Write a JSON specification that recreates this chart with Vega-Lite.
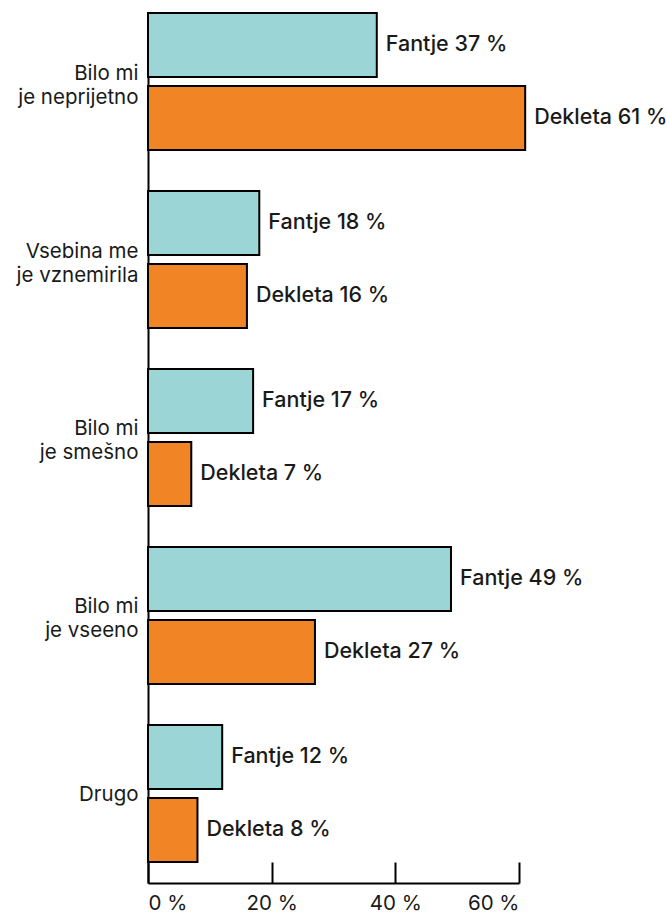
{
  "$schema": "https://vega.github.io/schema/vega-lite/v6.json",
  "width": 371,
  "height": 870,
  "autosize": {"type": "none"},
  "padding": {"left": 148, "top": 13, "right": 148, "bottom": 30},
  "background": "white",
  "config": {"view": {"stroke": null}, "font": "Inter"},
  "data": {
    "values": [
      {"category": "Bilo mi|je neprijetno", "group": "Fantje", "value": 37, "label": "Fantje 37 %"},
      {"category": "Bilo mi|je neprijetno", "group": "Dekleta", "value": 61, "label": "Dekleta 61 %"},
      {"category": "Vsebina me|je vznemirila", "group": "Fantje", "value": 18, "label": "Fantje 18 %"},
      {"category": "Vsebina me|je vznemirila", "group": "Dekleta", "value": 16, "label": "Dekleta 16 %"},
      {"category": "Bilo mi|je smešno", "group": "Fantje", "value": 17, "label": "Fantje 17 %"},
      {"category": "Bilo mi|je smešno", "group": "Dekleta", "value": 7, "label": "Dekleta 7 %"},
      {"category": "Bilo mi|je vseeno", "group": "Fantje", "value": 49, "label": "Fantje 49 %"},
      {"category": "Bilo mi|je vseeno", "group": "Dekleta", "value": 27, "label": "Dekleta 27 %"},
      {"category": "Drugo", "group": "Fantje", "value": 12, "label": "Fantje 12 %"},
      {"category": "Drugo", "group": "Dekleta", "value": 8, "label": "Dekleta 8 %"}
    ]
  },
  "encoding": {
    "y": {
      "field": "category",
      "type": "nominal",
      "sort": ["Bilo mi|je neprijetno", "Vsebina me|je vznemirila", "Bilo mi|je smešno", "Bilo mi|je vseeno", "Drugo"],
      "scale": {"paddingInner": 0.2303, "paddingOuter": 0.059, "align": 0},
      "axis": {
        "title": null,
        "ticks": false,
        "domainColor": "black",
        "domainWidth": 2,
        "labelExpr": "split(datum.value, '|')",
        "labelFontSize": 20.5,
        "labelFontWeight": 400,
        "labelColor": "#1a1a1a",
        "labelPadding": 10,
        "labelLineHeight": 24,
        "labelOffset": {"condition": {"test": "datum.value == 'Drugo'", "value": 2}, "value": -8},
        "labelFont": "Inter",
        "labelLimit": 200
      }
    },
    "yOffset": {
      "field": "group",
      "sort": ["Fantje", "Dekleta"],
      "scale": {"paddingInner": 0.123, "paddingOuter": 0}
    },
    "x": {
      "field": "value",
      "type": "quantitative",
      "scale": {"domain": [0, 60], "nice": false},
      "axis": {
        "title": null,
        "values": [0, 20, 40, 60],
        "grid": false,
        "tickSize": -21,
        "tickColor": "black",
        "tickWidth": 2,
        "domainColor": "black",
        "domainWidth": 2,
        "labelExpr": "datum.value + ' %'",
        "labelFontSize": 20.5,
        "labelColor": "#1a1a1a",
        "labelPadding": 31,
        "labelFont": "Inter"
      }
    }
  },
  "layer": [
    {
      "mark": {"type": "bar", "stroke": "black", "strokeWidth": 2},
      "encoding": {
        "color": {
          "field": "group",
          "type": "nominal",
          "scale": {"domain": ["Fantje", "Dekleta"], "range": ["#9BD5D6", "#F18424"]},
          "legend": null
        }
      }
    },
    {
      "mark": {"type": "text", "align": "left", "baseline": "middle", "dx": 9, "fontSize": 21.5, "fontWeight": 500, "color": "#1a1a1a", "font": "Inter"},
      "encoding": {"text": {"field": "label", "type": "nominal"}}
    }
  ]
}
